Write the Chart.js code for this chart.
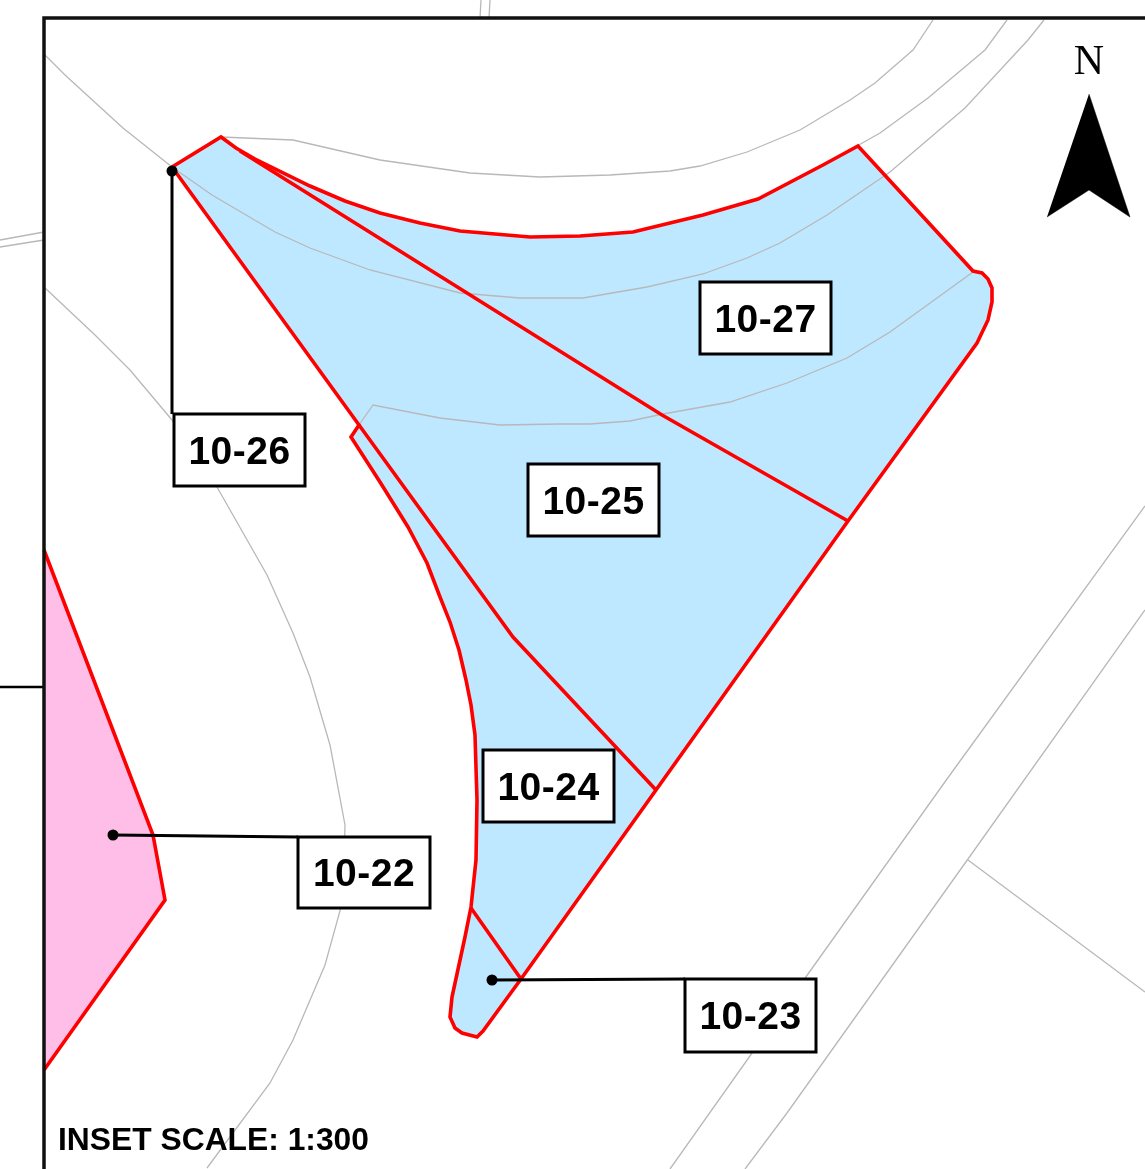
<!DOCTYPE html>
<html>
<head>
<meta charset="utf-8">
<title>Inset 1:300</title>
<script src="https://cdn.jsdelivr.net/npm/chart.js@4"></script>
<style>
  html, body { margin: 0; padding: 0; background: #fff; }
  canvas { display: block; }
</style>
</head>
<body>
<canvas id="map" width="1145" height="1169"></canvas>
<script>
// parcels, in picture coordinates [x, y]
const bigParcel = [[172,167],[221,137],[236,148],[255,159],[310,186],[345,201],[380,213],[420,223],[460,231],[530,237],[580,236],[633,232],[703,215],[758,199],[823,165],[858,146],[973,271],[982,273],[988,279],[992,288],[992,302],[988,320],[977,343],[848,521],[656,790],[521,979],[483,1031],[477,1037],[462,1033],[455,1028],[450,1017],[452,997],[465,937],[471,907],[476,860],[477,800],[475,735],[471,705],[466,680],[459,650],[450,622],[440,597],[427,563],[408,527],[380,482],[351,437],[359,425],[172,167]];
const pinkParcel = [[44,550],[153,835],[165,900],[44,1070]];
const split2725 = [[240,151],[662,415],[848,521]];
const split2524 = [[359,425],[513,637],[656,790]];
const split2423 = [[471,908],[521,979]];

// grey base lines
const roadA = [[44,54],[65,75],[123,128],[172,167],[212,195],[275,232],[310,248],[370,270],[460,293],[520,298],[583,298],[647,287],[703,274],[747,258],[780,243],[827,215],[890,172],[965,108],[1028,40],[1044,20]];
const roadB = [[221,137],[293,140],[380,160],[470,173],[540,177],[610,175],[670,171],[700,166],[747,152],[800,130],[850,100],[875,83],[913,50],[933,20]];
const roadC = [[857,146],[880,133],[928,98],[985,50],[1007,20]];
const roadD = [[359,425],[373,405],[440,418],[500,425],[560,424],[590,424],[630,421],[663,414],[730,402],[787,383],[847,358],[890,332],[973,272]];
const roadE = [[44,287],[95,335],[130,370],[172,420],[217,487],[267,575],[293,633],[310,677],[330,745],[345,825],[343,900],[325,965],[293,1040],[270,1083],[207,1168]];
const roadF = [[1145,506],[947,779],[808,974],[670,1169]];
const roadG = [[1145,610],[968,859],[787,1113],[745,1169]];
const roadH = [[968,860],[1145,992]];
const roadI = [[480,18],[481,0]];
const roadJ = [[489,18],[490,0]];
const roadK = [[0,240],[44,232]];
const roadL = [[0,247],[44,240]];

// black frame and leaders
const frame = [[44,1169],[44,18],[1145,18]];
const frameTick = [[0,687],[44,687]];
const leader26 = [[172,171],[172,414]];
const leader22 = [[113,835],[298,837]];
const leader23 = [[492,980],[685,979]];
const leaderDots = [[172,171],[113,835],[492,980]];
const northArrow = [[1089,94],[1130,217],[1089,190],[1047,217]];

// parcel labels
const labelNames = ["10-27", "10-26", "10-25", "10-24", "10-22", "10-23"];
const labelLeft = [700, 174, 528, 483, 298, 685];
const labelTop = [282, 414, 464, 750, 837, 979];
const labelRight = [831, 305, 659, 614, 430, 816];
const labelBottom = [354, 486, 536, 822, 908, 1052];

const toPoints = list => list.map(p => ({ x: p[0], y: p[1] }));

function lineSet(list, color, width, order) {
  return { data: toPoints(list), showLine: true, borderColor: color, borderWidth: width, pointRadius: 0, fill: false, order: order };
}
function areaSet(list, fillColor, borderColor, width, order) {
  return { data: toPoints(list), showLine: true, backgroundColor: fillColor, borderColor: borderColor, borderWidth: width, pointRadius: 0, fill: "shape", order: order };
}

const grey = "#b8b8b8";
const red = "#ff0000";
const datasets = [
  areaSet(bigParcel, "#bee8ff", "rgba(0,0,0,0)", 0, 9),
  areaSet(pinkParcel, "#ffbee8", "rgba(0,0,0,0)", 0, 9)
];
[roadA, roadB, roadC, roadD, roadE, roadF, roadG, roadH, roadI, roadJ, roadK, roadL].forEach(r => {
  datasets.push(lineSet(r, grey, 1.3, 8));
});
[bigParcel, pinkParcel, split2725, split2524, split2423].forEach(r => {
  datasets.push(lineSet(r, red, 3.6, 6));
});
[leader26, leader22, leader23].forEach(r => datasets.push(lineSet(r, "#000", 3, 5)));
datasets.push(lineSet(frameTick, "#000", 2.5, 5));
datasets.push(lineSet(frame, "#111", 3.5, 4));
datasets.push(areaSet(northArrow, "#000", "#000", 0.5, 4));
datasets.push({ data: toPoints(leaderDots), showLine: false, pointRadius: 5.5, pointBackgroundColor: "#000", pointBorderWidth: 0, order: 3 });

// white boxes and the texts on top of the map
const mapText = {
  id: "mapText",
  afterDraw(chart) {
    const { ctx, scales: { x, y } } = chart;
    ctx.save();
    labelNames.forEach((name, i) => {
      const l = x.getPixelForValue(labelLeft[i]);
      const t = y.getPixelForValue(labelTop[i]);
      const r = x.getPixelForValue(labelRight[i]);
      const b = y.getPixelForValue(labelBottom[i]);
      ctx.fillStyle = "#fff";
      ctx.fillRect(l, t, r - l, b - t);
      ctx.strokeStyle = "#000";
      ctx.lineWidth = 3;
      ctx.strokeRect(l, t, r - l, b - t);
      ctx.fillStyle = "#000";
      ctx.font = "bold 39px 'Liberation Sans'";
      ctx.letterSpacing = "0.5px";
      ctx.textAlign = "center";
      ctx.textBaseline = "middle";
      ctx.fillText(name, (l + r) / 2, (t + b) / 2 + 3);
    });
    ctx.letterSpacing = "0px";
    ctx.textAlign = "left";
    ctx.textBaseline = "alphabetic";
    ctx.font = "bold 31.8px 'Liberation Sans'";
    ctx.fillText("INSET SCALE: 1:300", x.getPixelForValue(58), y.getPixelForValue(1150));
    ctx.textAlign = "center";
    ctx.font = "42px 'Liberation Serif'";
    ctx.fillText("N", x.getPixelForValue(1089), y.getPixelForValue(74));
    ctx.restore();
  }
};

new Chart(document.getElementById("map").getContext("2d"), {
  type: "scatter",
  data: { datasets: datasets },
  plugins: [mapText],
  options: {
    responsive: false,
    animation: false,
    devicePixelRatio: 1,
    layout: { padding: 0, autoPadding: false },
    plugins: { legend: { display: false }, tooltip: { enabled: false } },
    scales: {
      x: { type: "linear", display: false, min: 0, max: 1145 },
      y: { type: "linear", display: false, min: 0, max: 1169, reverse: true }
    }
  }
});
</script>
</body>
</html>
